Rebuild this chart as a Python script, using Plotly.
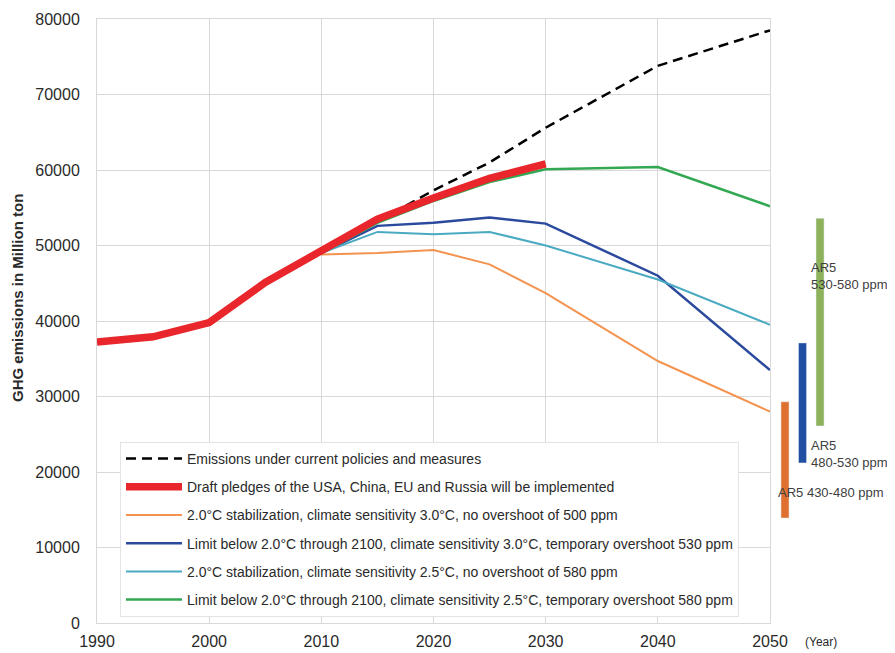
import plotly.graph_objects as go

years_hist = [1990, 1995, 2000, 2005, 2010, 2015, 2020, 2025, 2030]
pledges = [37200, 37900, 39800, 45100, 49300, 53500, 56300, 58900, 60800]

years_proj = [2010, 2015, 2020, 2025, 2030, 2040, 2050]
current_policies = [49300, 53200, 57300, 61000, 65600, 73800, 78500]
orange_500 = [48800, 49000, 49400, 47500, 43700, 34700, 28000]
blue_530 = [49000, 52600, 53000, 53700, 52900, 46000, 33500]
cyan_580 = [49000, 51800, 51500, 51800, 50000, 45500, 39500]
green_580 = [49000, 53000, 55900, 58400, 60100, 60400, 55200]

ar5_pos = [1, 2, 3]
ar5_low = [13900, 21200, 26100]
ar5_high = [29300, 37100, 53600]
ar5_colors = ["#e0702f", "#2150a3", "#8db25a"]

names = [
    "Emissions under current policies and measures",
    "Draft pledges of the USA, China, EU and Russia will be implemented",
    "2.0°C stabilization, climate sensitivity 3.0°C, no overshoot of 500 ppm",
    "Limit below 2.0°C through 2100, climate sensitivity 3.0°C, temporary overshoot 530 ppm",
    "2.0°C stabilization, climate sensitivity 2.5°C, no overshoot of 580 ppm",
    "Limit below 2.0°C through 2100, climate sensitivity 2.5°C, temporary overshoot 580 ppm",
]

fig = go.Figure()

def add_line(x, y, name, color, width, rank, dash="solid"):
    fig.add_trace(go.Scatter(x=x, y=y, name=name, mode="lines",
                             line=dict(color=color, width=width, dash=dash),
                             legendgroup=name, legendrank=rank, xaxis="x", yaxis="y"))

# draw order: thin lines first, red on top
add_line(years_proj, orange_500, names[2], "#f4934f", 2, 3)
add_line(years_proj, blue_530, names[3], "#2b4a9e", 2.5, 4)
add_line(years_proj, cyan_580, names[4], "#4aaac2", 2, 5)
add_line(years_proj, green_580, names[5], "#33a852", 2.5, 6)
add_line(years_proj, current_policies, names[0], "#000000", 2.5, 1, dash="10px,6px")
add_line(years_hist, pledges, names[1], "#e8262b", 7.5, 2)

for p, lo, hi, c in zip(ar5_pos, ar5_low, ar5_high, ar5_colors):
    fig.add_trace(go.Bar(x=[p], y=[hi - lo], base=[lo], marker_color=c,
                         width=0.46, showlegend=False, xaxis="x2", yaxis="y2",
                         hoverinfo="skip"))

grid = "#d9d9d9"
main_end = (770 - 97) / 788
txt = "#2a2a2a"

fig.update_layout(
    width=887, height=645,
    margin=dict(l=89, r=10, t=11, b=30),
    paper_bgcolor="white", plot_bgcolor="white",
    font=dict(family="Arial, Liberation Sans, sans-serif", color=txt),
    xaxis=dict(domain=[0, main_end], range=[1990, 2050], dtick=10, tick0=1990,
               showgrid=True, gridcolor=grid, gridwidth=1, showline=True, linecolor=grid,
               mirror=True, zeroline=False, ticks="", automargin=False,
               ticklabelstandoff=4, tickfont=dict(size=16, color=txt)),
    yaxis=dict(range=[0, 80000], dtick=10000, tickformat="d", showgrid=True,
               gridcolor=grid, showline=True, linecolor=grid, mirror=True,
               zeroline=False, ticks="", ticklabelstandoff=13, automargin=False,
               tickfont=dict(size=16, color=txt)),
    xaxis2=dict(domain=[main_end, 1], range=[0.143, 6.71], visible=False, anchor="y2"),
    yaxis2=dict(range=[0, 80000], visible=False, anchor="x2", showgrid=False),
    barmode="overlay",
    showlegend=True,
    legend=dict(x=(120 - 97) / 788, y=6 / 604, xanchor="left", yanchor="bottom",
                bgcolor="white", bordercolor="#e3e3e3", borderwidth=1,
                traceorder="grouped", tracegroupgap=7, itemwidth=56,
                font=dict(size=14, color=txt)),
)

# y-axis title
fig.add_annotation(x=-80 / 788, y=(623 - 298) / 604, xref="paper", yref="paper",
                   text="<b>GHG emissions in Million ton</b>", textangle=-90,
                   showarrow=False, xanchor="center", yanchor="middle",
                   font=dict(size=15, color=txt))

ann_font = dict(size=13, color="#404040")
fig.add_annotation(x=3, y=46000, xref="x2", yref="y2", text="AR5<br>530-580 ppm",
                   showarrow=False, xanchor="left", yanchor="middle", align="left",
                   font=ann_font, xshift=-11)
fig.add_annotation(x=3, y=22400, xref="x2", yref="y2", text="AR5<br>480-530 ppm",
                   showarrow=False, xanchor="left", yanchor="middle", align="left",
                   font=ann_font, xshift=-11)
fig.add_annotation(x=1, y=17300, xref="x2", yref="y2", text="AR5 430-480 ppm",
                   showarrow=False, xanchor="left", yanchor="middle", align="left",
                   font=ann_font, xshift=-9)
fig.add_annotation(x=815 / 887, y=-20 / 645, xref="paper", yref="paper", text="(Year)",
                   showarrow=False, xanchor="center", yanchor="middle",
                   font=dict(size=12, color=txt))

fig.write_html("out.html")
